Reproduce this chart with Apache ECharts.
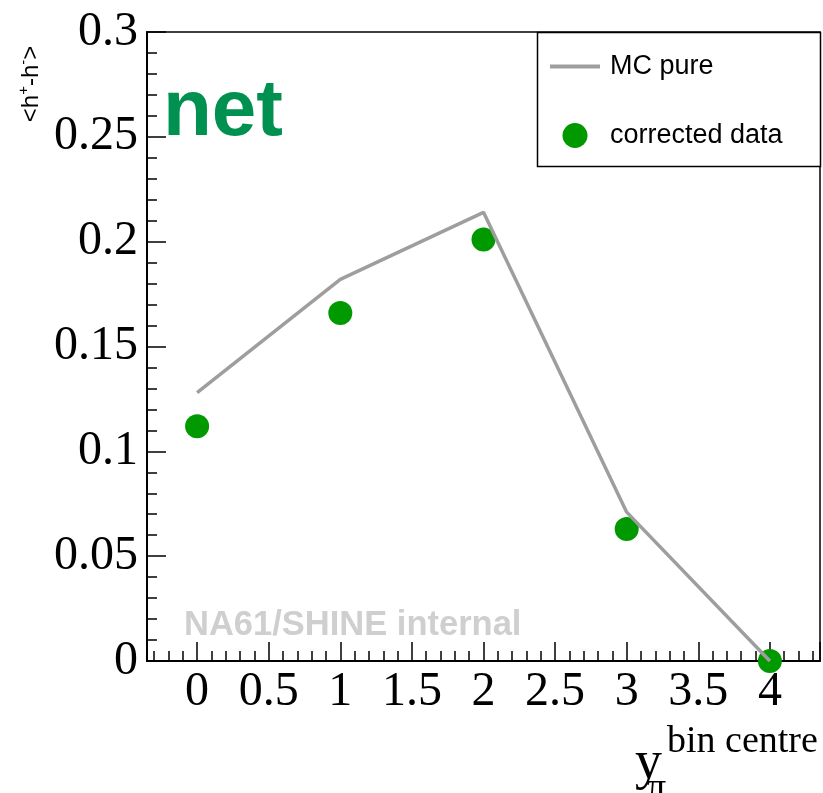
<!DOCTYPE html>
<html>
<head>
<meta charset="utf-8">
<script src="https://cdn.jsdelivr.net/npm/echarts@6/dist/echarts.min.js"></script>
<style>
  html, body { margin: 0; padding: 0; background: #fff; }
  #chart { width: 823px; height: 793px; }
</style>
</head>
<body>
<div id="chart"></div>
<script>
// Rapidity bin centres and the net-charge mean per bin
const binCentres = [0, 1, 2, 3, 4];
const mcPure = [0.128, 0.182, 0.214, 0.071, 0.0];
const correctedData = [0.112, 0.166, 0.201, 0.063, 0.0];
const seriesNames = ['MC pure', 'corrected data'];

const serif = '"Liberation Serif", "Times New Roman", serif';
const sans = '"Liberation Sans", Arial, Helvetica, sans-serif';

const chart = echarts.init(document.getElementById('chart'), null, { renderer: 'canvas' });

const pairs = (ys) => binCentres.map((x, i) => [x, ys[i]]);

chart.setOption({
  animation: false,
  backgroundColor: '#fff',
  grid: {
    left: 147, top: 32, right: 3, bottom: 132,
    show: true, borderColor: '#000', borderWidth: 1.5,
    containLabel: false
  },
  xAxis: {
    type: 'value',
    min: -0.35, max: 4.35, splitNumber: 9,
    axisLine: { show: true, onZero: false, lineStyle: { color: '#000', width: 2 } },
    axisTick: { show: true, inside: true, length: 19, lineStyle: { color: '#000', width: 1.5 } },
    minorTick: { show: true, splitNumber: 5, length: 10, lineStyle: { color: '#000', width: 1.5 } },
    splitLine: { show: false },
    axisLabel: {
      show: true, margin: 7, showMinLabel: false, showMaxLabel: false,
      color: '#000', fontFamily: serif, fontSize: 48,
      formatter: (v) => String(Math.round(v * 10) / 10)
    }
  },
  yAxis: {
    type: 'value',
    min: 0, max: 0.3, interval: 0.05,
    axisLine: { show: true, onZero: false, lineStyle: { color: '#000', width: 2 } },
    axisTick: { show: true, inside: true, length: 19, lineStyle: { color: '#000', width: 1.5 } },
    minorTick: { show: true, splitNumber: 5, length: 10, lineStyle: { color: '#000', width: 1.5 } },
    splitLine: { show: false },
    axisLabel: {
      show: true, margin: 9,
      color: '#000', fontFamily: serif, fontSize: 48,
      formatter: (v) => String(Math.round(v * 100) / 100)
    }
  },
  legend: {
    orient: 'vertical',
    left: 548, top: 53, padding: 0,
    itemWidth: 50, itemHeight: 25, itemGap: 42,
    data: [
      { name: seriesNames[0], itemStyle: { opacity: 0 }, lineStyle: { width: 4, color: '#9e9e9e' } },
      { name: seriesNames[1] }
    ],
    textStyle: { color: '#000', fontFamily: sans, fontSize: 27, padding: [0, 0, 0, 5] }
  },
  series: [
    {
      name: seriesNames[0],
      type: 'line',
      data: pairs(mcPure),
      symbol: 'none',
      z: 3,
      lineStyle: { color: '#9e9e9e', width: 3.5 },
      itemStyle: { color: '#9e9e9e' }
    },
    {
      name: seriesNames[1],
      type: 'scatter',
      data: pairs(correctedData),
      symbol: 'circle',
      symbolSize: 24,
      clip: false,
      z: 2,
      itemStyle: { color: '#009900', opacity: 1 }
    }
  ],
  graphic: [
    // legend frame
    {
      type: 'rect', z: 1,
      shape: { x: 537.5, y: 32.5, width: 283, height: 134 },
      style: { fill: '#fff', stroke: '#000', lineWidth: 1.5 }
    },
    // panel tag
    {
      type: 'text', z: 10,
      style: { x: 163, y: 113, text: 'net', fill: '#009150',
        font: 'bold 80px ' + sans, textVerticalAlign: 'middle' }
    },
    // collaboration watermark
    {
      type: 'text', z: 10,
      style: { x: 184, y: 625, text: 'NA61/SHINE internal', fill: '#cfcfcf',
        font: 'bold 34.5px ' + sans, textVerticalAlign: 'middle' }
    },
    // x-axis title: y_pi^{bin centre}
    {
      type: 'text', z: 10,
      style: { x: 635, y: 764, text: 'y', fill: '#000',
        font: '54px ' + serif, textVerticalAlign: 'middle' }
    },
    {
      type: 'text', z: 10,
      style: { x: 667, y: 742, text: 'bin centre', fill: '#000',
        font: '38px ' + serif, textVerticalAlign: 'middle' }
    },
    {
      type: 'text', z: 10,
      style: { x: 647, y: 789, text: 'π', fill: '#000',
        font: '38px ' + serif, textVerticalAlign: 'middle' }
    },
    // y-axis title: <h+ - h->
    {
      type: 'text', z: 10,
      x: 30, y: 84, rotation: Math.PI / 2,
      style: {
        text: '{t|<h}{s|+}{t|-h}{s|-}{t|>}',
        textAlign: 'center', textVerticalAlign: 'middle',
        rich: {
          t: { fontFamily: sans, fontSize: 24, color: '#000', lineHeight: 27, verticalAlign: 'bottom' },
          s: { fontFamily: sans, fontSize: 15, color: '#000', lineHeight: 27, verticalAlign: 'top' }
        }
      }
    }
  ]
});
</script>
</body>
</html>
